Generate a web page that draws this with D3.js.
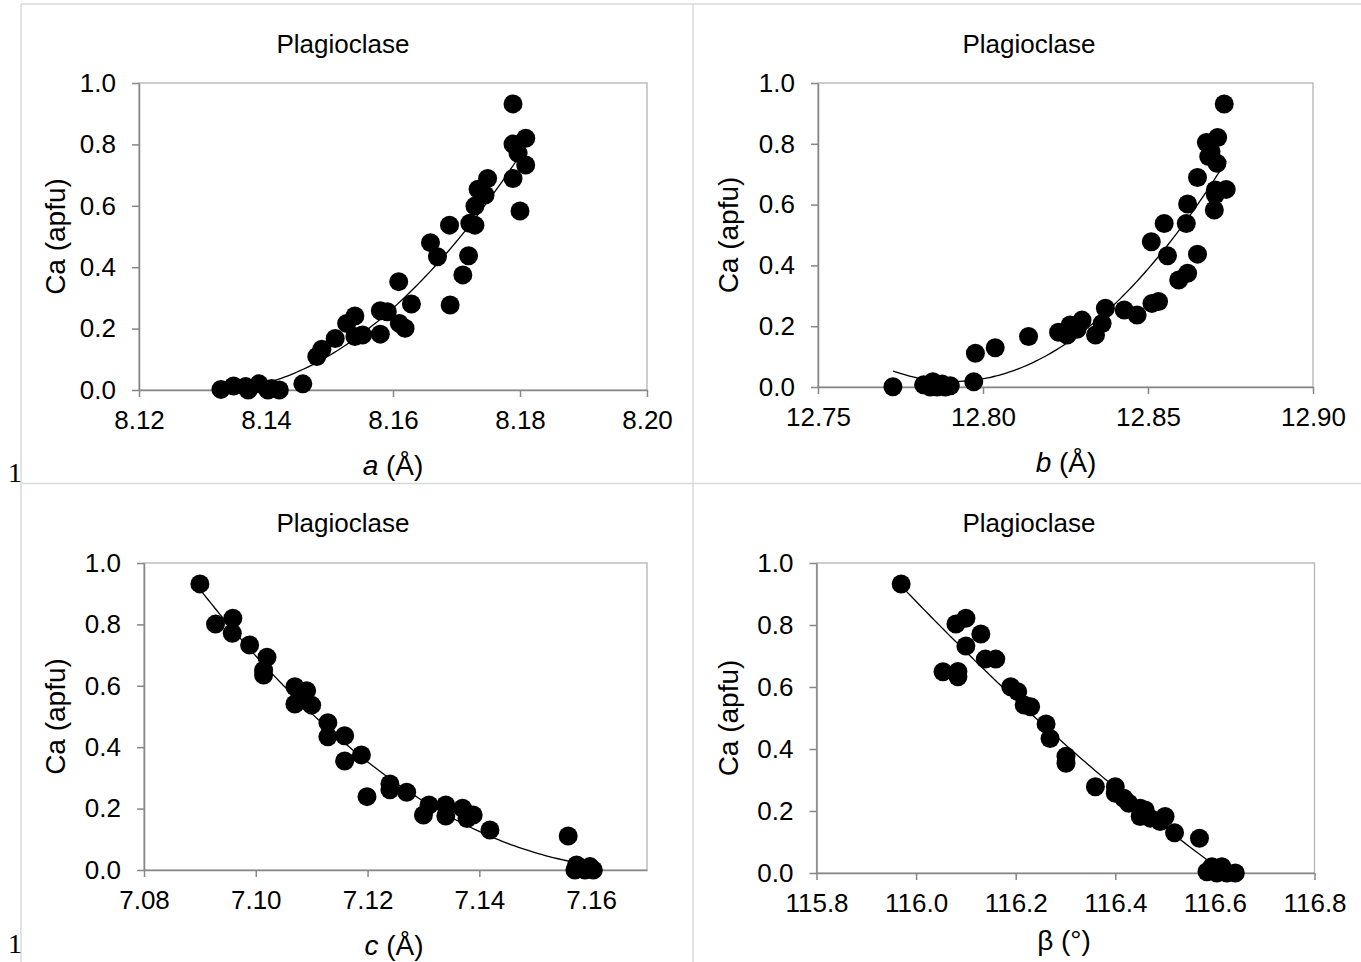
<!DOCTYPE html>
<html><head><meta charset="utf-8">
<script src="https://cdn.jsdelivr.net/npm/d3@7"></script>
<style>
html,body{margin:0;padding:0;background:#fff;}
svg{display:block;font-family:"Liberation Sans",Arial,sans-serif;}
</style></head>
<body>
<svg id="chart" width="1361" height="962"></svg>
<script>
// ---------- data ----------
const chartTitle = "Plagioclase";
const yTicks = [0.0, 0.2, 0.4, 0.6, 0.8, 1.0];

const aVals = [8.1789,8.1789,8.1809,8.1797,8.1809,8.1789,8.1800,8.1749,8.1734,8.1745,8.1729,8.1721,8.1729,8.1689,8.1659,8.1670,8.1719,8.1710,8.1690,8.1609,8.1629,8.1619,8.1610,8.1580,8.1591,8.1580,8.1540,8.1527,8.1540,8.1552,8.1509,8.1488,8.1480,8.1458,8.1329,8.1349,8.1368,8.1389,8.1372,8.1409,8.1421,8.1403];
const caA   = [0.932,0.801,0.820,0.771,0.733,0.689,0.583,0.689,0.654,0.635,0.599,0.543,0.537,0.537,0.480,0.434,0.437,0.375,0.277,0.353,0.280,0.201,0.217,0.258,0.255,0.182,0.241,0.217,0.174,0.179,0.168,0.133,0.109,0.020,0.002,0.013,0.011,0.020,0.000,0.005,0.000,0.000];
const aTicks = [8.12, 8.14, 8.16, 8.18, 8.20];

const bVals = [12.8731,12.8711,12.8677,12.8691,12.8709,12.8684,12.8650,12.8737,12.8704,12.8704,12.8701,12.8620,12.8616,12.8549,12.8510,12.8559,12.8650,12.8620,12.8593,12.8532,12.8512,12.8467,12.8428,12.8371,12.8361,12.8341,12.8300,12.8264,12.8229,12.8255,12.8285,12.8138,12.8037,12.7977,12.7972,12.7727,12.7820,12.7848,12.7876,12.7840,12.7886,12.7861,12.7901];
const caB   = [0.931,0.821,0.804,0.774,0.736,0.758,0.689,0.650,0.648,0.632,0.582,0.602,0.538,0.538,0.478,0.432,0.437,0.374,0.352,0.281,0.275,0.237,0.253,0.259,0.209,0.171,0.220,0.204,0.180,0.171,0.190,0.166,0.129,0.111,0.017,0.001,0.007,0.017,0.010,0.000,0.000,0.000,0.004];
const bTicks = [12.75, 12.80, 12.85, 12.90];

const cVals = [7.0900,7.0928,7.0959,7.0958,7.0989,7.1020,7.1014,7.1014,7.1070,7.1091,7.1079,7.1070,7.1100,7.1085,7.1129,7.1129,7.1159,7.1189,7.1159,7.1199,7.1240,7.1240,7.1270,7.1310,7.1300,7.1340,7.1340,7.1370,7.1389,7.1378,7.1419,7.1559,7.1574,7.1583,7.1598,7.1589,7.1604,7.1571,7.1592];
const caC   = [0.932,0.801,0.820,0.771,0.733,0.693,0.651,0.635,0.597,0.584,0.565,0.541,0.537,0.554,0.480,0.434,0.437,0.375,0.355,0.239,0.280,0.261,0.253,0.212,0.179,0.212,0.176,0.201,0.179,0.168,0.130,0.111,0.016,0.005,0.011,0.000,0.000,0.000,0.003];
const cTicks = [7.08, 7.10, 7.12, 7.14, 7.16];

const betaVals = [115.970,116.080,116.100,116.130,116.100,116.054,116.084,116.084,116.139,116.160,116.190,116.204,116.217,116.230,116.261,116.269,116.301,116.301,116.360,116.400,116.400,116.417,116.427,116.450,116.460,116.450,116.470,116.500,116.490,116.519,116.569,116.594,116.614,116.584,116.604,116.641,116.624];
const caBeta   = [0.932,0.803,0.822,0.771,0.732,0.649,0.650,0.633,0.690,0.690,0.601,0.585,0.542,0.536,0.481,0.434,0.377,0.354,0.278,0.278,0.257,0.241,0.225,0.209,0.203,0.182,0.177,0.182,0.166,0.130,0.112,0.020,0.020,0.004,0.000,0.000,0.000];
const betaTicks = [115.8, 116.0, 116.2, 116.4, 116.6, 116.8];

// ---------- layout ----------
const panels = [
  {xs:aVals, ys:caA, ticks:aTicks, dom:[8.12,8.20], fmt:".2f", left:139, right:647, top:83, bottom:390,
   titleX:343, titleY:44, xLabel:["a"," (Å)"], xLabX:393, xLabY:465, yLabX:55},
  {xs:bVals, ys:caB, ticks:bTicks, dom:[12.75,12.90], fmt:".2f", left:818, right:1313, top:83, bottom:387,
   titleX:1029, titleY:44, xLabel:["b"," (Å)"], xLabX:1066, xLabY:462, yLabX:728},
  {xs:cVals, ys:caC, ticks:cTicks, dom:[7.08,7.17], fmt:".2f", left:144, right:647, top:563, bottom:870,
   titleX:343, titleY:523, xLabel:["c"," (Å)"], xLabX:394, xLabY:945, yLabX:55},
  {xs:betaVals, ys:caBeta, ticks:betaTicks, dom:[115.8,116.8], fmt:".1f", left:816.5, right:1314.5, top:563, bottom:873,
   titleX:1029, titleY:523, xLabel:[null,"β (°)"], xLabX:1064, xLabY:940, yLabX:728}
];

const svg = d3.select("#chart");

// outer table grid
const gridC = "#d9d9d9";
[[21,4,1361,4],[21,483.5,1361,483.5],[21,4,21,962],[693,4,693,962]].forEach(l=>{
  svg.append("line").attr("x1",l[0]).attr("y1",l[1]).attr("x2",l[2]).attr("y2",l[3])
    .attr("stroke",gridC).attr("stroke-width",1.5);
});
svg.append("text").attr("x",8).attr("y",482).attr("font-family","'Liberation Serif','Times New Roman',serif")
  .attr("font-size",28).text("1");
svg.append("text").attr("x",8).attr("y",953).attr("font-family","'Liberation Serif','Times New Roman',serif")
  .attr("font-size",28).text("1");

function polyfit2(xs, ys){
  const n = xs.length, mx = d3.mean(xs);
  let S=[0,0,0,0,0], T=[0,0,0];
  for(let i=0;i<n;i++){
    const u = xs[i]-mx;
    let p=1;
    for(let k=0;k<5;k++){ S[k]+=p; if(k<3) T[k]+=p*ys[i]; p*=u; }
  }
  const M=[[S[0],S[1],S[2],T[0]],[S[1],S[2],S[3],T[1]],[S[2],S[3],S[4],T[2]]];
  for(let i=0;i<3;i++){
    let piv=i; for(let r=i+1;r<3;r++) if(Math.abs(M[r][i])>Math.abs(M[piv][i])) piv=r;
    [M[i],M[piv]]=[M[piv],M[i]];
    for(let r=0;r<3;r++){ if(r===i) continue; const f=M[r][i]/M[i][i]; for(let c=i;c<4;c++) M[r][c]-=f*M[i][c]; }
  }
  const c0=M[0][3]/M[0][0], c1=M[1][3]/M[1][1], c2=M[2][3]/M[2][2];
  return x=>{const u=x-mx; return c0+c1*u+c2*u*u;};
}

panels.forEach((p,pi)=>{
  const x = d3.scaleLinear().domain(p.dom).range([p.left,p.right]);
  const y = d3.scaleLinear().domain([0,1]).range([p.bottom,p.top]);
  const g = svg.append("g");

  g.append("text").attr("x",p.titleX).attr("y",p.titleY).attr("text-anchor","middle")
    .attr("dominant-baseline","central").attr("font-size",26).attr("fill","#000").text(chartTitle);

  g.append("rect").attr("x",p.left).attr("y",p.top).attr("width",p.right-p.left).attr("height",p.bottom-p.top)
    .attr("fill","none").attr("stroke","#b3b3b3").attr("stroke-width",1.3);

  const xa = g.append("g").attr("transform",`translate(0,${p.bottom})`)
    .call(d3.axisBottom(x).tickValues(p.ticks).tickFormat(d3.format(p.fmt)).tickSizeInner(7).tickSizeOuter(0).tickPadding(14));
  const ya = g.append("g").attr("transform",`translate(${p.left},0)`)
    .call(d3.axisLeft(y).tickValues(yTicks).tickFormat(d3.format(".1f")).tickSizeInner(7).tickSizeOuter(0).tickPadding(16));
  [xa,ya].forEach(a=>{
    a.select(".domain").attr("stroke","#868686").attr("stroke-width",1.5);
    a.selectAll(".tick line").attr("stroke","#868686").attr("stroke-width",1.5);
    a.selectAll(".tick text").attr("font-size",26).attr("fill","#000").attr("font-family","'Liberation Sans',Arial,sans-serif");
  });

  const xl = g.append("text").attr("x",p.xLabX).attr("y",p.xLabY).attr("text-anchor","middle")
    .attr("dominant-baseline","central").attr("font-size",28).attr("fill","#000");
  if(p.xLabel[0]) xl.append("tspan").attr("font-style","italic").text(p.xLabel[0]);
  xl.append("tspan").text(p.xLabel[1]);

  g.append("text").attr("transform",`translate(${p.yLabX},${(p.top+p.bottom)/2}) rotate(-90)`)
    .attr("text-anchor","middle").attr("dominant-baseline","central").attr("font-size",28).attr("fill","#000")
    .text("Ca (apfu)");

  // trendline (quadratic least-squares fit of the data)
  const f = polyfit2(p.xs,p.ys);
  const [xmin,xmax] = d3.extent(p.xs);
  const samples = d3.range(0,101).map(i=>xmin+(xmax-xmin)*i/100);
  const clipId = "clip"+pi;
  svg.append("clipPath").attr("id",clipId).append("rect")
    .attr("x",p.left).attr("y",p.top).attr("width",p.right-p.left).attr("height",p.bottom-p.top);
  g.append("path").attr("clip-path",`url(#${clipId})`)
    .attr("d",d3.line().x(d=>x(d)).y(d=>y(f(d)))(samples))
    .attr("fill","none").attr("stroke","#000").attr("stroke-width",1.3);

  g.selectAll("circle.pt").data(p.xs.map((v,i)=>[v,p.ys[i]])).join("circle")
    .attr("class","pt").attr("cx",d=>x(d[0])).attr("cy",d=>y(d[1])).attr("r",9.5).attr("fill","#000");
});
</script>
</body></html>
